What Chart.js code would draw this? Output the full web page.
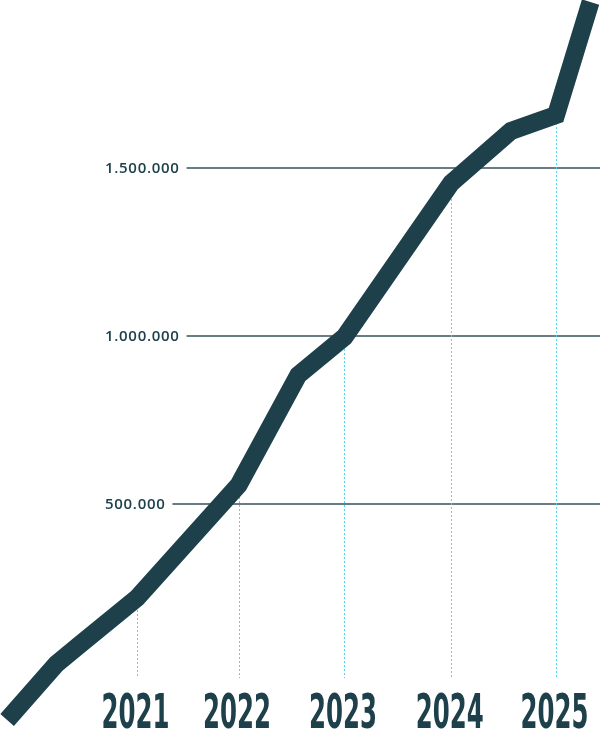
<!DOCTYPE html>
<html>
<head>
<meta charset="utf-8">
<script src="https://cdn.jsdelivr.net/npm/chart.js@4/dist/chart.umd.min.js"></script>
<style>
html, body { margin: 0; padding: 0; background: #fff; }
canvas { display: block; }
</style>
</head>
<body>
<canvas id="growthChart" width="600" height="740"></canvas>
<script>
// points along the curve (decimal year, total)
const years = [2019.76, 2020.23, 2020.45, 2021.0, 2021.97, 2022.54, 2022.98, 2024.0, 2024.57, 2025.0, 2025.33];
const totals = [-142900, 23800, 80400, 220200, 556500, 883900, 997000, 1455400, 1610100, 1657700, 1994000];
// points that carry a year label
const yearTicks = [2021.0, 2021.97, 2022.98, 2024.0, 2025.0];
const yearLabels = ['2021', '2022', '2023', '2024', '2025'];
const valueTicks = [500000, 1000000, 1500000];

const lineColor = '#1d404a';
const gridColor = '#34515a';
const guideColor = '#4fd8ec';
const valueFont = '600 15px "Open Sans", "Noto Sans", sans-serif';
const yearFont = 'bold 48px "Liberation Sans Narrow", "DejaVu Sans Condensed", "Liberation Sans", sans-serif';
const labelLeft = 105;
const guideBottom = -18000;

function formatThousands(n) {
    // 1500000 -> '1.500.000'
    return String(n).replace(/\B(?=(\d{3})+(?!\d))/g, '.');
}

const decorPlugin = {
    id: 'decor',
    beforeDatasetsDraw(chart) {
        const { ctx, chartArea } = chart;
        const x = chart.scales.x, y = chart.scales.y;
        ctx.save();
        // gridlines start just after their label
        ctx.font = valueFont;
        ctx.letterSpacing = '0.7px';
        ctx.strokeStyle = gridColor;
        ctx.lineWidth = 1.3;
        valueTicks.forEach(v => {
            const py = Math.round(y.getPixelForValue(v));
            const w = ctx.measureText(formatThousands(v)).width;
            ctx.beginPath();
            ctx.moveTo(labelLeft + w + 7, py);
            ctx.lineTo(chartArea.right, py);
            ctx.stroke();
        });
        // dotted guides from the curve down to the year labels
        ctx.setLineDash([2, 2]);
        ctx.strokeStyle = guideColor;
        ctx.lineWidth = 1;
        yearTicks.forEach(t => {
            const i = years.indexOf(t);
            const px = Math.round(x.getPixelForValue(t)) + 0.5;
            ctx.beginPath();
            ctx.moveTo(px, y.getPixelForValue(totals[i]));
            ctx.lineTo(px, y.getPixelForValue(guideBottom));
            ctx.stroke();
        });
        ctx.restore();
    },
    afterDraw(chart) {
        const { ctx, chartArea } = chart;
        const x = chart.scales.x, y = chart.scales.y;
        ctx.save();
        ctx.fillStyle = lineColor;
        // value labels, left aligned
        ctx.font = valueFont;
        ctx.letterSpacing = '0.7px';
        ctx.textAlign = 'left';
        ctx.textBaseline = 'middle';
        valueTicks.forEach(v => {
            ctx.fillText(formatThousands(v), labelLeft, y.getPixelForValue(v) + 1);
        });
        // year labels, squeezed to look condensed
        ctx.letterSpacing = '0px';
        ctx.font = yearFont;
        ctx.textAlign = 'center';
        ctx.textBaseline = 'alphabetic';
        yearLabels.forEach((label, i) => {
            const px = x.getPixelForValue(yearTicks[i]) - 1.5;
            const sx = 68 / ctx.measureText(label).width;
            ctx.save();
            ctx.translate(px, chartArea.bottom - 12);
            ctx.scale(sx, 1);
            ctx.fillText(label, 0, 0);
            ctx.restore();
        });
        ctx.restore();
    }
};

const ctx = document.getElementById('growthChart').getContext('2d');
new Chart(ctx, {
    type: 'line',
    data: {
        datasets: [{
            data: years.map((yr, i) => ({ x: yr, y: totals[i] })),
            borderColor: lineColor,
            borderWidth: 18,
            borderJoinStyle: 'miter',
            borderCapStyle: 'butt',
            tension: 0,
            pointRadius: 0,
            fill: false,
            clip: false
        }]
    },
    options: {
        responsive: false,
        animation: false,
        devicePixelRatio: 1,
        layout: { padding: 0 },
        plugins: { legend: { display: false }, tooltip: { enabled: false } },
        scales: {
            x: { type: 'linear', min: 2019.692, max: 2025.42, display: false },
            y: { type: 'linear', min: -202381, max: 2000000, display: false }
        }
    },
    plugins: [decorPlugin]
});
</script>
</body>
</html>
